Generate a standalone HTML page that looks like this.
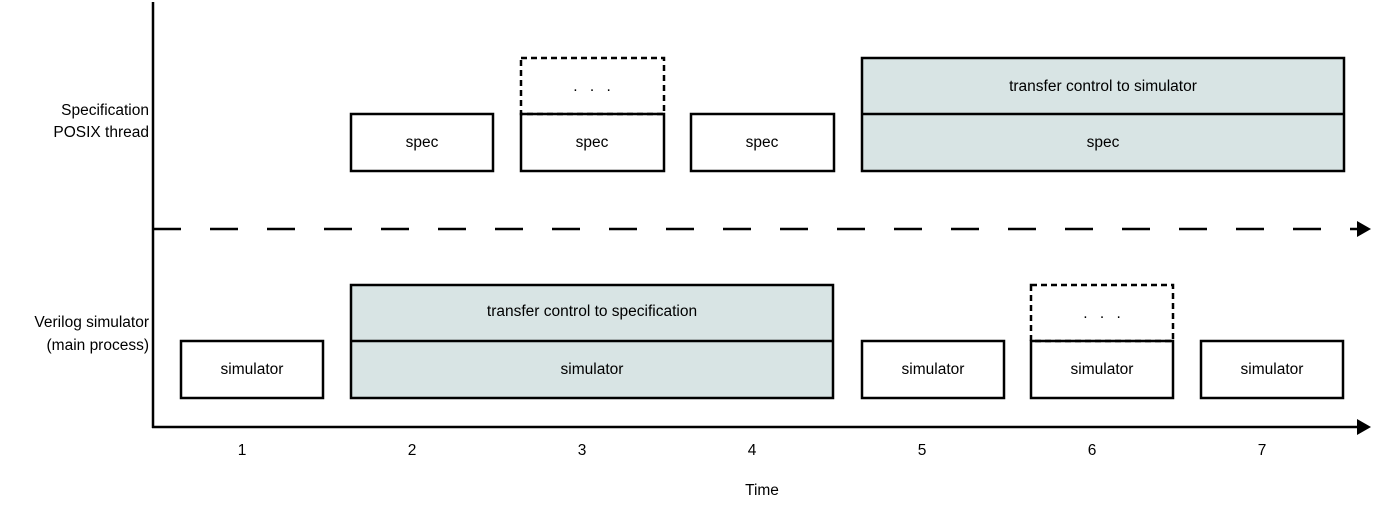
<!DOCTYPE html>
<html><head><style>body{margin:0;background:#fff}</style></head><body>
<svg width="1374" height="506" xmlns="http://www.w3.org/2000/svg" font-family="Liberation Sans, sans-serif" font-size="15.5" fill="#000">
<g stroke="#000" stroke-width="2.5" fill="none">
<line x1="153" y1="2" x2="153" y2="428"/>
<line x1="152" y1="427" x2="1358" y2="427"/>
<line x1="153" y1="229" x2="1358" y2="229" stroke-dasharray="28 29"/>
<rect x="351" y="114" width="142" height="57"/>
<rect x="521" y="114" width="143" height="57"/>
<rect x="691" y="114" width="143" height="57"/>
<rect x="862" y="58" width="482" height="113" fill="#d8e4e4"/>
<line x1="862" y1="114" x2="1344" y2="114"/>
<rect x="521" y="58" width="143" height="56" stroke-dasharray="6 4"/>
<rect x="181" y="341" width="142" height="57"/>
<rect x="351" y="285" width="482" height="113" fill="#d8e4e4"/>
<line x1="351" y1="341" x2="833" y2="341"/>
<rect x="862" y="341" width="142" height="57"/>
<rect x="1031" y="341" width="142" height="57"/>
<rect x="1031" y="285" width="142" height="56" stroke-dasharray="6 4"/>
<rect x="1201" y="341" width="142" height="57"/>
</g>
<polygon points="1357,221 1371,229 1357,237" />
<polygon points="1357,419 1371,427 1357,435" />
<g text-anchor="middle">
<text x="422" y="147">spec</text>
<text x="592" y="147">spec</text>
<text x="762" y="147">spec</text>
<text x="1103" y="147">spec</text>
<text x="1103" y="91">transfer control to simulator</text>
<text x="594" y="91" letter-spacing="4">. . .</text>
<text x="1104" y="318" letter-spacing="4">. . .</text>
<text x="592" y="316">transfer control to specification</text>
<text x="592" y="374">simulator</text>
<text x="252" y="374">simulator</text>
<text x="933" y="374">simulator</text>
<text x="1102" y="374">simulator</text>
<text x="1272" y="374">simulator</text>
<text x="242" y="455">1</text><text x="412" y="455">2</text><text x="582" y="455">3</text><text x="752" y="455">4</text><text x="922" y="455">5</text><text x="1092" y="455">6</text><text x="1262" y="455">7</text>
<text x="762" y="495">Time</text>
</g>
<g text-anchor="end">
<text x="149" y="115">Specification</text>
<text x="149" y="137">POSIX thread</text>
<text x="149" y="327">Verilog simulator</text>
<text x="149" y="350">(main process)</text>
</g>
</svg>
</body></html>
